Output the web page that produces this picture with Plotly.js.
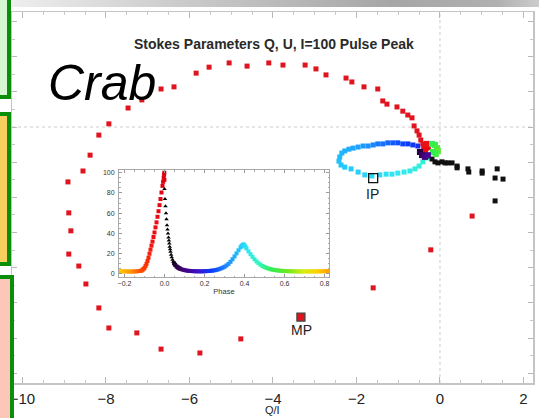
<!DOCTYPE html>
<html>
<head>
<meta charset="utf-8">
<script src="https://cdn.plot.ly/plotly-3.0.1.min.js"></script>
<style>
  html, body { margin: 0; padding: 0; background: #ffffff; }
  #wrap { position: relative; width: 539px; height: 418px; overflow: hidden; }
  #plot { position: absolute; left: 0; top: 0; width: 539px; height: 418px; }
  .deco { position: absolute; box-sizing: border-box; pointer-events: none; }
  #band { left: 12px; top: 0; width: 527px; height: 7px;
          background: linear-gradient(to right, #eeeeee 0%, #cdcdcd 30%, #a6a6a6 72%, #b0b0b0 92%, #cccccc 100%); }
  #box1 { left: -10px; top: -10px; width: 21px; height: 109px; border: 4px solid #0b8f0b; background: #d7f7d3; }
  #box2 { left: -10px; top: 112px; width: 21px; height: 154px; border: 4px solid #0b8f0b; background: #f9cf60; }
  #box3 { left: -10px; top: 275px; width: 24px; height: 160px; border: 4px solid #0b8f0b; background: #fbc7b8; }
</style>
</head>
<body>
<div id="wrap">
  <div id="plot"></div>
  <div id="band" class="deco"></div>
  <div id="box1" class="deco"></div>
  <div id="box2" class="deco"></div>
  <div id="box3" class="deco"></div>
</div>
<script>
// ---------------- Main Q/I - U/I plane ----------------
// Outer loop (leading edge of main pulse, red)
const loopQ = [0.77, -0.22, -1.60, -4.77, -5.75, -6.68, -7.26, -7.93, -8.17, -8.48, -8.65, -8.89, -8.84, -8.89, -8.91, -8.55, -8.38, -8.17, -7.93, -7.47, -7.14, -6.68, -6.37, -5.84, -5.53, -5.05, -4.62, -4.10, -3.76, -3.23, -2.97, -2.73, -2.25, -2.11, -1.82, -1.49, -1.37, -1.27, -1.03, -0.89, -0.77, -0.67, -0.62, -0.55, -0.50, -0.46, -0.41];
const loopU = [-2.53, -3.49, -4.57, -6.02, -6.42, -6.31, -5.85, -5.71, -5.14, -4.46, -3.95, -3.61, -2.95, -2.44, -1.56, -1.25, -0.80, -0.23, 0.09, 0.54, 0.77, 1.08, 1.14, 1.53, 1.70, 1.82, 1.73, 1.82, 1.76, 1.76, 1.65, 1.48, 1.39, 1.28, 1.14, 1.08, 0.74, 0.65, 0.57, 0.45, 0.34, 0.26, 0.03, -0.11, -0.23, -0.37, -0.48];

// Main pulse marker (MP) and interpulse marker (IP)
const mpQ = [-3.33];
const mpU = [-5.40];
const ipMarkQ = [-1.60];
const ipMarkU = [-1.45];

// Trailing edge of main pulse (black)
const trailQ = [-0.29, -0.19, -0.12, -0.05, 0.05, 0.12, 0.19, 0.29, 0.41, 0.41, 0.67, 0.69, 1.01, 1.01, 1.37, 1.32, 1.51, 1.32];
const trailU = [-0.82, -0.91, -0.99, -1.02, -0.99, -1.02, -1.02, -1.02, -1.11, -1.16, -1.19, -1.28, -1.25, -1.31, -1.19, -1.45, -1.48, -2.10];

// Interpulse loop (blue -> cyan), with phases used for colour
const ipLoopQ = [-0.53, -0.65, -0.77, -0.89, -1.01, -1.13, -1.25, -1.37, -1.49, -1.60, -1.72, -1.84, -1.96, -2.08, -2.18, -2.28, -2.35, -2.40, -2.42, -2.37, -2.28, -2.13, -1.96, -1.80, -1.63, -1.44, -1.29, -1.15, -1.01, -0.86, -0.72, -0.60, -0.50, -0.41, -0.31];
const ipLoopU = [-0.54, -0.51, -0.48, -0.48, -0.45, -0.45, -0.45, -0.48, -0.48, -0.51, -0.54, -0.54, -0.57, -0.60, -0.63, -0.68, -0.74, -0.85, -0.97, -1.08, -1.14, -1.19, -1.28, -1.36, -1.39, -1.36, -1.34, -1.34, -1.31, -1.28, -1.25, -1.19, -1.11, -0.99, -0.88];
const ipLoopPhase = [0.22, 0.23, 0.24, 0.25, 0.26, 0.27, 0.28, 0.29, 0.30, 0.31, 0.32, 0.33, 0.34, 0.345, 0.35, 0.355, 0.36, 0.365, 0.37, 0.375, 0.38, 0.385, 0.39, 0.395, 0.40, 0.405, 0.41, 0.415, 0.42, 0.425, 0.43, 0.435, 0.44, 0.45, 0.46];

// Cluster at the centre (pulse peak, off-pulse)
const coreQ = [-0.38, -0.34, -0.36, -0.29, -0.31, -0.19, -0.12, -0.07, -0.05, -0.10, -0.17, -0.48, -0.43, -0.36, -0.29];
const coreU = [-0.54, -0.60, -0.65, -0.57, -0.48, -0.48, -0.51, -0.60, -0.68, -0.77, -0.71, -0.71, -0.80, -0.85, -0.80];
const corePhase = [0.93, 0.95, 0.96, 0.97, 0.94, 0.53, 0.55, 0.57, 0.59, 0.56, 0.54, 0.06, 0.08, 0.10, 0.12];

const xTickVals = [-10, -8, -6, -4, -2, 0, 2];

// ---------------- Inset pulse profile ----------------
const profPhase = [-0.23, -0.22, -0.21, -0.20, -0.19, -0.18, -0.17, -0.16, -0.15, -0.14, -0.13, -0.12, -0.115, -0.11, -0.105, -0.10, -0.095, -0.09, -0.085, -0.08, -0.075, -0.07, -0.065, -0.06, -0.055, -0.05, -0.045, -0.04, -0.035, -0.03, -0.025, -0.02, -0.015, -0.01, -0.007, -0.004, -0.002, -0.001, -0.0005,
  0.048, 0.053, 0.06, 0.065, 0.07, 0.075, 0.08, 0.09, 0.10, 0.11, 0.12, 0.13, 0.14, 0.15, 0.16, 0.17, 0.18, 0.19, 0.20, 0.21, 0.22, 0.23, 0.24, 0.25, 0.26, 0.27, 0.28, 0.29, 0.30, 0.31, 0.32, 0.33, 0.34, 0.35, 0.36, 0.37, 0.38, 0.385, 0.39, 0.395, 0.40, 0.405, 0.41, 0.42, 0.43, 0.44, 0.45, 0.46, 0.47, 0.48, 0.49, 0.50, 0.51, 0.52, 0.53, 0.54, 0.55, 0.56, 0.57, 0.58, 0.59, 0.60, 0.61, 0.62, 0.63, 0.64, 0.65, 0.66, 0.67, 0.68, 0.69, 0.70, 0.71, 0.72, 0.73, 0.74, 0.75, 0.76, 0.77, 0.78, 0.79, 0.80, 0.81, 0.82];
const profI = [2.8, 2.7, 2.6, 2.5, 2.5, 2.4, 2.4, 2.4, 2.5, 2.6, 2.8, 3.0, 3.4, 4.0, 5.0, 6.0, 7.8, 10, 12.8, 16, 20, 24, 28, 32, 36.5, 41, 46, 51, 56.5, 62, 68, 74, 80.5, 87, 91, 95, 98, 100, 93,
  10.5, 9.0, 7.5, 6.7, 6.0, 5.5, 5.0, 4.3, 3.8, 3.4, 3.1, 2.9, 2.8, 2.7, 2.6, 2.6, 2.6, 2.6, 2.7, 2.8, 2.9, 3.1, 3.3, 3.6, 4.0, 4.6, 5.3, 6.1, 7.1, 8.4, 10.0, 12.0, 14.5, 17.3, 20.3, 23.4, 26.2, 27.5, 28.6, 29.3, 28.4, 26.8, 25.2, 22.3, 19.5, 16.9, 14.5, 12.4, 10.6, 9.1, 7.9, 6.9, 6.0, 5.3, 4.7, 4.3, 3.9, 3.6, 3.4, 3.2, 3.0, 2.9, 2.8, 2.7, 2.7, 2.6, 2.6, 2.5, 2.5, 2.5, 2.5, 2.5, 2.5, 2.5, 2.5, 2.5, 2.5, 2.5, 2.6, 2.6, 2.6, 2.7, 2.7, 2.8, 2.8];
// Falling edge of main pulse (black triangles)
const fallPhase = [0.0, 0.0025, 0.005, 0.0075, 0.01, 0.0125, 0.015, 0.0175, 0.02, 0.022, 0.024, 0.026, 0.028, 0.03, 0.033, 0.036, 0.04, 0.044];
const fallI = [84, 74, 67, 60, 54, 48, 44, 40, 36, 33, 30, 27, 24.5, 22, 19, 16.5, 14, 12];
const insetXTicks = [-0.2, 0.0, 0.2, 0.4, 0.6, 0.8];
const insetYTicks = [0, 20, 40, 60, 80, 100];

// IDL-like rainbow colour table (phase 0..1, wrapping)
const rainbow = [
  [0.00, '#000000'], [0.05, '#1e0030'], [0.10, '#46007e'], [0.17, '#3a10c8'],
  [0.24, '#0a3cff'], [0.31, '#1a86ff'], [0.37, '#20c0ff'], [0.42, '#30e8f0'],
  [0.48, '#30f6b8'], [0.54, '#30ee50'], [0.62, '#70e820'], [0.70, '#d8ec10'],
  [0.77, '#ffd000'], [0.83, '#ff9a00'], [0.89, '#ff4a00'], [0.94, '#f01010'], [1.00, '#e00010']
];
const wrap = p => (p < 0 ? p + 1 : p);

const traces = [
  // inset profile
  { x: profPhase, y: profI, xaxis: 'x2', yaxis: 'y2', type: 'scatter', mode: 'markers',
    marker: { symbol: 'square', size: 4, color: profPhase.map(wrap), colorscale: rainbow, cmin: 0, cmax: 1 },
    hoverinfo: 'skip', showlegend: false },
  { x: fallPhase, y: fallI, xaxis: 'x2', yaxis: 'y2', type: 'scatter', mode: 'markers',
    marker: { symbol: 'triangle-up', size: 4, color: '#000000' }, hoverinfo: 'skip', showlegend: false },
  // main plane
  { x: ipLoopQ, y: ipLoopU, type: 'scatter', mode: 'markers',
    marker: { symbol: 'square', size: 5, color: ipLoopPhase, colorscale: rainbow, cmin: 0, cmax: 1 },
    hoverinfo: 'skip', showlegend: false },
  { x: trailQ, y: trailU, type: 'scatter', mode: 'markers',
    marker: { symbol: 'square', size: 5, color: '#111111' }, hoverinfo: 'skip', showlegend: false },
  { x: coreQ, y: coreU, type: 'scatter', mode: 'markers',
    marker: { symbol: 'square', size: 6, color: corePhase, colorscale: rainbow, cmin: 0, cmax: 1 },
    hoverinfo: 'skip', showlegend: false },
  { x: loopQ, y: loopU, type: 'scatter', mode: 'markers',
    marker: { symbol: 'square', size: 5, color: '#e0141e' }, hoverinfo: 'skip', showlegend: false },
  { x: mpQ, y: mpU, type: 'scatter', mode: 'markers',
    marker: { symbol: 'square', size: 8, color: '#e0141e', line: { color: '#444444', width: 1.3 } },
    hoverinfo: 'skip', showlegend: false },
  { x: ipMarkQ, y: ipMarkU, type: 'scatter', mode: 'markers',
    marker: { symbol: 'square-open', size: 9, color: '#111111', line: { width: 1.3 } },
    hoverinfo: 'skip', showlegend: false }
];

const W = 539, H = 418, L = 12, R = 6, T = 12, B = 35;
const px2paperX = px => (px - L) / (W - L - R);
const px2paperY = py => (H - B - py) / (H - T - B);

const layout = {
  width: W, height: H,
  margin: { l: L, r: R, t: T, b: B, pad: 0 },
  paper_bgcolor: '#ffffff', plot_bgcolor: '#ffffff',
  showlegend: false,
  font: { family: 'Liberation Sans, Arial, sans-serif', color: '#222222' },
  xaxis: {
    range: [-10.25, 2.228], tickmode: 'array', tickvals: xTickVals,
    ticks: 'inside', ticklen: 6, tickcolor: '#b8b8b8', tickwidth: 1,
    minor: { dtick: 0.5, ticks: 'inside', ticklen: 3, tickcolor: '#c8c8c8' },
    showline: true, linecolor: '#c4c4c4', linewidth: 1.5, mirror: 'allticks',
    showgrid: false, zeroline: false,
    tickfont: { size: 15, color: '#222222' }, ticklabelstandoff: 1
  },
  yaxis: {
    range: [-7.273, 3.267], dtick: 1,
    ticks: 'inside', ticklen: 5, tickcolor: '#b8b8b8',
    minor: { dtick: 0.5, ticks: 'inside', ticklen: 3, tickcolor: '#c8c8c8' },
    showline: true, linecolor: '#c4c4c4', linewidth: 1.5, mirror: 'allticks',
    showgrid: false, zeroline: false, showticklabels: false
  },
  xaxis2: {
    domain: [px2paperX(119), px2paperX(329)], anchor: 'y2',
    range: [-0.2275, 0.8225], tickmode: 'array', tickvals: insetXTicks, tickformat: '.1f',
    ticks: 'inside', ticklen: 3, tickcolor: '#999999',
    minor: { dtick: 0.05, ticks: 'inside', ticklen: 1.5, tickcolor: '#aaaaaa' },
    showline: true, linecolor: '#a8a8a8', linewidth: 1, mirror: 'allticks',
    showgrid: false, zeroline: false,
    tickfont: { size: 7, color: '#333333' }, ticklabelstandoff: 0,
    title: { text: 'Phase', font: { size: 7.5, color: '#333333' }, standoff: 2 }
  },
  yaxis2: {
    domain: [px2paperY(277), px2paperY(170)], anchor: 'x2',
    range: [-3, 102.7], tickmode: 'array', tickvals: insetYTicks,
    ticks: 'inside', ticklen: 3, tickcolor: '#999999',
    minor: { dtick: 5, ticks: 'inside', ticklen: 1.5, tickcolor: '#aaaaaa' },
    showline: true, linecolor: '#a8a8a8', linewidth: 1, mirror: 'allticks',
    showgrid: false, zeroline: false,
    tickfont: { size: 7, color: '#333333' }, ticklabelstandoff: 2
  },
  shapes: [
    { type: 'line', xref: 'x', yref: 'paper', x0: 0, x1: 0, y0: 0, y1: 1, layer: 'below',
      line: { color: '#cccccc', width: 1, dash: 'dot' } },
    { type: 'line', xref: 'paper', yref: 'y', x0: 0, x1: 1, y0: 0, y1: 0, layer: 'below',
      line: { color: '#cccccc', width: 1, dash: 'dot' } }
  ],
  annotations: [
    { text: '<b>Stokes Parameters Q, U, I=100 Pulse Peak</b>', xref: 'paper', yref: 'paper',
      x: px2paperX(274), y: px2paperY(44), xanchor: 'center', yanchor: 'middle', showarrow: false,
      font: { size: 14, color: '#2a2a2a' } },
    { text: '<i>Crab</i>', xref: 'paper', yref: 'paper',
      x: px2paperX(46), y: px2paperY(83), xanchor: 'left', yanchor: 'middle', showarrow: false,
      font: { size: 50, color: '#000000' } },
    { text: 'IP', xref: 'paper', yref: 'paper', x: px2paperX(372.5), y: px2paperY(194),
      xanchor: 'center', yanchor: 'middle', showarrow: false, font: { size: 14, color: '#222222' } },
    { text: 'MP', xref: 'paper', yref: 'paper', x: px2paperX(301), y: px2paperY(330),
      xanchor: 'center', yanchor: 'middle', showarrow: false, font: { size: 14, color: '#222222' } },
    { text: 'Q/I', xref: 'paper', yref: 'paper', x: px2paperX(272), y: px2paperY(418),
      xanchor: 'center', yanchor: 'bottom', showarrow: false, font: { size: 11, color: '#222222' } }
  ]
};

Plotly.newPlot('plot', traces, layout, { staticPlot: true, displayModeBar: false });
</script>
</body>
</html>
